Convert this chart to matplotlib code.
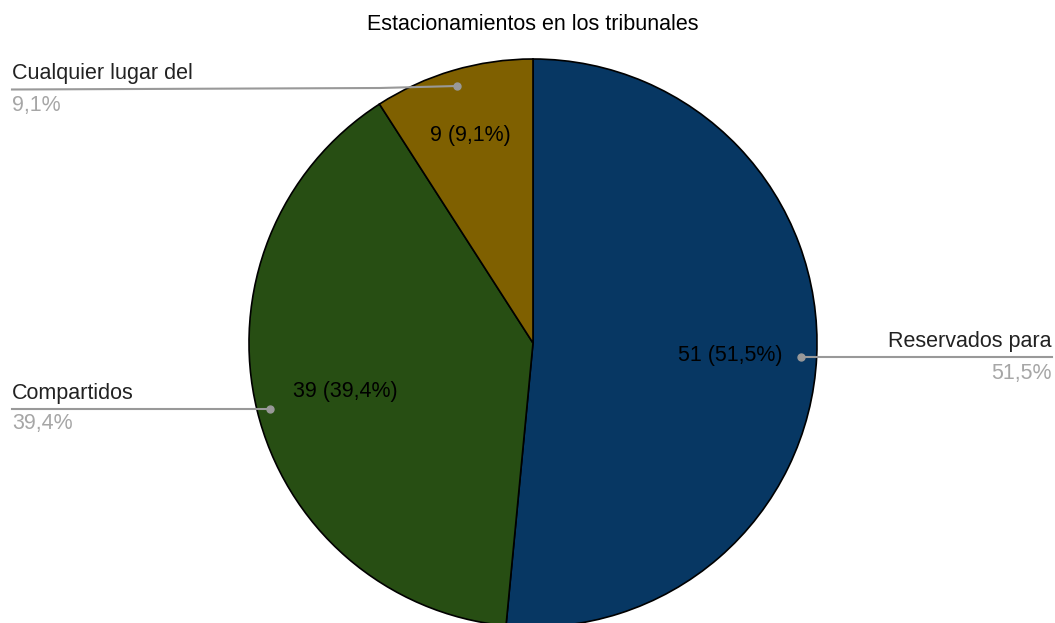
import matplotlib
matplotlib.use("Agg")
import matplotlib.pyplot as plt

plt.rcParams['font.family'] = ['Liberation Sans', 'DejaVu Sans']

title = "Estacionamientos en los tribunales"
categories = ["Reservados para", "Compartidos", "Cualquier lugar del"]
values = [51, 39, 9]
pct_labels = ["51,5%", "39,4%", "9,1%"]
inner_labels = ["51 (51,5%)", "39 (39,4%)", "9 (9,1%)"]
colors = ["#073763", "#274e13", "#7f6000"]

W, H = 1055, 623
fig = plt.figure(figsize=(W / 100, H / 100), dpi=100)
ax = fig.add_axes([0, 0, 1, 1])
ax.set_xlim(0, W)
ax.set_ylim(0, H)
ax.set_aspect('equal')
ax.axis('off')

def Y(py):
    return H - py

cx, cy, r = 533, Y(343), 284
ax.pie(values, colors=colors, startangle=90, counterclock=False,
       center=(cx, cy), radius=r, frame=True,
       wedgeprops=dict(edgecolor='black', linewidth=1.2))
ax.set_xlim(0, W)
ax.set_ylim(0, H)
ax.axis('off')

fs = 15.5
ax.text(533, Y(25), title, ha='center', va='center', fontsize=fs, color='#000000')

# inner labels
inner_pos = [(730, 356), (345, 391), (470, 136)]
for (x, y), t in zip(inner_pos, inner_labels):
    ax.text(x, Y(y), t, ha='center', va='center', fontsize=fs, color='#000000')

line_c = '#999999'
pct_c = '#a6a6a6'
txt_c = '#222222'

# Reservados (right)
ax.plot([801, 1052], [Y(357), Y(357)], color=line_c, lw=1.5)
ax.plot(801, Y(357), 'o', color=line_c, ms=5)
ax.text(1052, Y(342), categories[0], ha='right', va='center', fontsize=fs, color=txt_c)
ax.text(1052, Y(373), pct_labels[0], ha='right', va='center', fontsize=fs, color=pct_c)

# Compartidos (left)
ax.plot([12, 270], [Y(409), Y(409)], color=line_c, lw=1.5)
ax.plot(270, Y(409), 'o', color=line_c, ms=5)
ax.text(12, Y(393), categories[1], ha='left', va='center', fontsize=fs, color=txt_c)
ax.text(12, Y(424), pct_labels[1], ha='left', va='center', fontsize=fs, color=pct_c)

# Cualquier lugar del (left top)
ax.plot([12, 380, 457], [Y(89.5), Y(88), Y(86)], color=line_c, lw=1.5)
ax.plot(457, Y(86), 'o', color=line_c, ms=5)
ax.text(12, Y(74), categories[2], ha='left', va='center', fontsize=fs, color=txt_c)
ax.text(12, Y(105), pct_labels[2], ha='left', va='center', fontsize=fs, color=pct_c)

fig.savefig("out.png", dpi=100, facecolor='white')
